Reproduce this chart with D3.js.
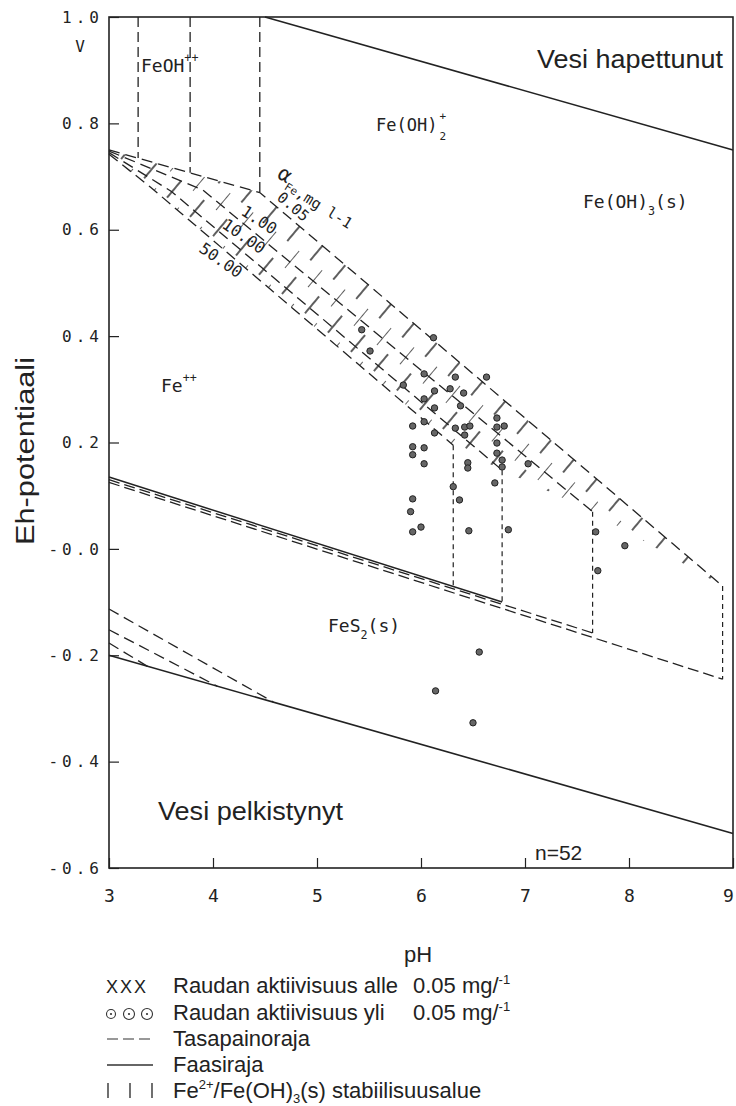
<!DOCTYPE html>
<html lang="fi">
<head>
<meta charset="UTF-8">
<title>Eh-pH diagrammi</title>
<script src="https://d3js.org/d3.v7.min.js"></script>
<style>
  body { margin: 0; background: #fff; }
  svg { display: block; }
  .mono { font-family: "DejaVu Sans Mono", monospace; fill: #222; }
  .sans { font-family: "Liberation Sans", Arial, sans-serif; fill: #222; }
</style>
</head>
<body>
<svg id="chart" width="736" height="1106"></svg>
<script>
// axis ticks
const phTicks = [3, 4, 5, 6, 7, 8, 9];
const ehTicks = [1.0, 0.8, 0.6, 0.4, 0.2, 0.0, -0.2, -0.4, -0.6];

// phase boundaries (pH, Eh)
const waterUpper = [[4.5, 1.0], [9, 0.75]];
const waterLower = [[3, -0.2], [9, -0.535]];
const feS2Solid = [[3, 0.135], [6.78, -0.1]];
const feS2DashA = [[3, 0.13], [7.65, -0.158]];
const feS2DashB = [[3, 0.125], [8.9, -0.245]];
const lowDash1 = [[3, -0.113], [4.58, -0.288]];
const lowDash2 = [[3, -0.152], [4.04, -0.258]];
const lowDash3 = [[3, -0.177], [3.38, -0.222]];

// Fe2+/Fe(OH)3 lines for activities 0.05, 1, 10, 50 mg/l
const band005 = [[3, 0.75], [4.45, 0.67], [8.9, -0.07]];
const band1 = [[3, 0.748], [3.9, 0.675], [7.65, 0.07]];
const band10 = [[3, 0.745], [3.6, 0.672], [6.78, 0.148]];
const band50 = [[3, 0.742], [3.4, 0.68], [6.31, 0.195]];
const hatchLower = [[3, 0.742], [3.4, 0.68], [6.31, 0.195], [6.78, 0.148], [7.65, 0.07], [8.9, -0.07]];

// vertical boundaries: pH, Eh top, Eh bottom
const topVerticals = [[3.28, 1.0, 0.735], [3.78, 1.0, 0.707], [4.45, 1.0, 0.67]];
const lowVerticals = [[6.31, 0.195, -0.071], [6.78, 0.148, -0.1], [7.65, 0.07, -0.158], [8.9, -0.07, -0.245]];

// samples (n=52)
const samplePH = [5.43, 5.51, 5.83, 6.12, 6.03, 6.33, 6.63, 6.13, 6.28, 6.41, 6.03, 6.13, 6.38, 5.92, 6.03, 6.13,
  6.33, 6.42, 6.47, 6.42, 6.73, 6.80, 6.73, 6.73, 6.73, 6.78, 6.78, 5.92, 5.92, 6.03, 6.03, 6.45, 6.45, 6.31,
  6.37, 6.71, 7.03, 5.92, 5.90, 5.92, 6.00, 6.46, 6.84, 7.68, 7.70, 7.96, 6.56, 6.14, 6.50];
const sampleEh = [0.412, 0.372, 0.308, 0.397, 0.329, 0.323, 0.323, 0.297, 0.301, 0.293, 0.282, 0.265, 0.269, 0.231, 0.239, 0.218,
  0.227, 0.229, 0.231, 0.214, 0.246, 0.231, 0.229, 0.199, 0.180, 0.167, 0.154, 0.192, 0.177, 0.190, 0.160, 0.162, 0.152, 0.117,
  0.092, 0.124, 0.160, 0.094, 0.070, 0.032, 0.041, 0.034, 0.036, 0.032, -0.041, 0.006, -0.194, -0.267, -0.327];

const svg = d3.select('#chart');
const plotLeft = 109, plotRight = 733, plotTop = 17, plotBottom = 868;

const x = d3.scaleLinear().domain([3, 9]).range([plotLeft, plotRight]);
const y = d3.scaleLinear().domain([-0.6, 1.0]).range([plotBottom, plotTop]);
const line = d3.line().x(d => x(d[0])).y(d => y(d[1]));

// hatch pattern for the stability band
const defs = svg.append('defs');
defs.append('pattern')
    .attr('id', 'hatch')
    .attr('patternUnits', 'userSpaceOnUse')
    .attr('width', 30).attr('height', 44)
    .attr('patternTransform', 'rotate(40)')
  .append('path')
    .attr('d', 'M0,0V22M15,22V44')
    .attr('stroke', '#1a1a1a').attr('stroke-width', 1.4);

svg.append('path')
    .attr('d', line(band005.concat(hatchLower.slice().reverse())) + 'Z')
    .attr('fill', 'url(#hatch)')
    .attr('stroke', 'none');

// axes
const yAxis = d3.axisLeft(y).tickValues(ehTicks).tickSize(-10).tickPadding(6)
    .tickFormat(d => d === 0 ? '-0.0' : d.toFixed(1));
svg.append('g').attr('transform', `translate(${plotLeft},0)`).call(yAxis)
    .call(g => g.select('.domain').remove())
    .call(g => g.selectAll('text').attr('class', 'mono').attr('font-size', 16).attr('letter-spacing', 4));

const xAxis = d3.axisBottom(x).tickValues(phTicks).tickSize(-10).tickPadding(21)
    .tickFormat(d3.format('d'));
svg.append('g').attr('transform', `translate(0,${plotBottom})`).call(xAxis)
    .call(g => g.select('.domain').remove())
    .call(g => g.selectAll('text').attr('class', 'mono').attr('font-size', 18)
        .attr('dx', d => d === 9 ? -5 : 0));

svg.selectAll('.tick line').attr('stroke', '#222').attr('stroke-width', 1.2);

svg.append('rect')
    .attr('x', plotLeft).attr('y', plotTop)
    .attr('width', plotRight - plotLeft).attr('height', plotBottom - plotTop)
    .attr('fill', 'none').attr('stroke', '#222').attr('stroke-width', 1.6);

// boundary lines
function draw(pts, dash, w) {
  svg.append('path')
      .attr('d', line(pts))
      .attr('fill', 'none')
      .attr('stroke', '#222')
      .attr('stroke-width', w || 1.3)
      .attr('stroke-dasharray', dash || null);
}

draw(waterUpper, null, 1.6);
draw(waterLower, null, 1.6);
draw(feS2Solid, null, 1.5);
draw(feS2DashA, '11,5');
draw(feS2DashB, '11,5');
draw(lowDash1, '11,6');
draw(lowDash2, '11,6');
draw(lowDash3, '11,6');
[band005, band1, band10, band50].forEach(b => draw(b, '11,6'));

topVerticals.forEach(v => draw([[v[0], v[1]], [v[0], v[2]]], '10,5'));
lowVerticals.forEach(v => draw([[v[0], v[1]], [v[0], v[2]]], '5,4', 1.2));

// samples
svg.append('g').selectAll('circle')
  .data(samplePH.map((p, i) => [p, sampleEh[i]]))
  .join('circle')
    .attr('cx', d => x(d[0]))
    .attr('cy', d => y(d[1]))
    .attr('r', 3.2)
    .attr('fill', '#666')
    .attr('stroke', '#222')
    .attr('stroke-width', 1);

// labels in the diagram
svg.append('text').attr('class', 'mono').attr('x', 80).attr('y', 52)
    .attr('font-size', 16).attr('text-anchor', 'middle').text('V');

function chem(xp, yp, parts, size) {
  const fs = size || 18;
  const t = svg.append('text').attr('class', 'mono').attr('x', xp).attr('y', yp).attr('font-size', fs);
  parts.forEach(p => {
    const s = t.append('tspan').text(p.t);
    if (p.dy) s.attr('dy', p.dy);
    if (p.small) s.attr('font-size', fs * 0.65);
  });
  return t;
}

chem(141, 72, [{t: 'FeOH'}, {t: '++', dy: -10, small: true}]);
chem(161, 392, [{t: 'Fe'}, {t: '++', dy: -10, small: true}]);
chem(328, 632, [{t: 'FeS'}, {t: '2', dy: 7, small: true}, {t: '(s)', dy: -7}]);
chem(583, 208, [{t: 'Fe(OH)'}, {t: '3', dy: 7, small: true}, {t: '(s)', dy: -7}]);
const feoh2 = chem(376, 131, [{t: 'Fe(OH)'}], 17);
const w2 = feoh2.node().getComputedTextLength();
chem(376 + w2 + 2, 120, [{t: '+'}], 11);
chem(376 + w2 + 2, 140, [{t: '2'}], 11);

svg.append('text').attr('class', 'sans').attr('x', 537).attr('y', 68).attr('font-size', 25)
    .attr('textLength', 186).attr('lengthAdjust', 'spacingAndGlyphs').text('Vesi hapettunut');
svg.append('text').attr('class', 'sans').attr('x', 158).attr('y', 820).attr('font-size', 25)
    .attr('textLength', 185).attr('lengthAdjust', 'spacingAndGlyphs').text('Vesi pelkistynyt');
svg.append('text').attr('class', 'sans').attr('x', 535).attr('y', 860).attr('font-size', 21).text('n=52');

// activity labels along the band
const alpha = svg.append('text').attr('class', 'mono')
    .attr('transform', 'translate(276,177) rotate(32)').attr('font-size', 21);
alpha.append('tspan').text('α');
alpha.append('tspan').attr('font-size', 11).attr('dy', 6).text('Fe');
alpha.append('tspan').attr('font-size', 15).attr('dy', 0).text(',mg l-1');

[['0.05', 276, 199, 40, 15], ['1.00', 240, 214, 33, 16], ['10.00', 221, 227, 35, 16], ['50.00', 198, 251, 35, 16]]
  .forEach(l => {
    svg.append('text').attr('class', 'mono').attr('font-size', l[4])
        .attr('transform', `translate(${l[1]},${l[2]}) rotate(${l[3]})`).text(l[0]);
  });

// axis titles
svg.append('text').attr('class', 'sans').attr('font-size', 26)
    .attr('transform', 'translate(34,451) rotate(-90)').attr('text-anchor', 'middle')
    .attr('textLength', 188).attr('lengthAdjust', 'spacingAndGlyphs').text('Eh-potentiaali');
svg.append('text').attr('class', 'sans').attr('font-size', 22).attr('fill', '#444')
    .attr('x', 418).attr('y', 962).attr('text-anchor', 'middle').text('pH');

// legend
const lg = svg.append('g').attr('class', 'legend');
const rowY = [993, 1020, 1046, 1072, 1098];
lg.append('text').attr('class', 'sans').attr('x', 106).attr('y', rowY[0]).attr('font-size', 18)
    .attr('letter-spacing', 2).attr('fill', '#333').text('XXX');
[111, 129, 147].forEach((cx, i) => {
  lg.append('circle').attr('cx', cx).attr('cy', rowY[1] - 6).attr('r', i === 0 ? 4.5 : 5.5)
      .attr('fill', 'none').attr('stroke', '#333').attr('stroke-width', 1.1);
  lg.append('circle').attr('cx', cx).attr('cy', rowY[1] - 6).attr('r', 1.1).attr('fill', '#333');
});
lg.append('line').attr('x1', 107).attr('x2', 153).attr('y1', rowY[2] - 7).attr('y2', rowY[2] - 7)
    .attr('stroke', '#333').attr('stroke-width', 1.2).attr('stroke-dasharray', '11,5');
lg.append('line').attr('x1', 107).attr('x2', 153).attr('y1', rowY[3] - 7).attr('y2', rowY[3] - 7)
    .attr('stroke', '#333').attr('stroke-width', 1.4);
[108, 130, 152].forEach(bx => {
  lg.append('line').attr('x1', bx).attr('x2', bx).attr('y1', rowY[4] - 15).attr('y2', rowY[4])
      .attr('stroke', '#333').attr('stroke-width', 1.4);
});

function legendText(xp, yp, parts) {
  const t = lg.append('text').attr('class', 'sans').attr('fill', '#333')
      .attr('x', xp).attr('y', yp).attr('font-size', 22);
  parts.forEach(p => {
    const s = t.append('tspan').text(p.t);
    if (p.dy) s.attr('dy', p.dy);
    if (p.small) s.attr('font-size', 13);
  });
}
legendText(173, rowY[0], [{t: 'Raudan aktiivisuus alle'}]);
legendText(173, rowY[1], [{t: 'Raudan aktiivisuus yli'}]);
legendText(413, rowY[0], [{t: '0.05 mg/'}, {t: '-1', dy: -9, small: true}]);
legendText(413, rowY[1], [{t: '0.05 mg/'}, {t: '-1', dy: -9, small: true}]);
legendText(173, rowY[2], [{t: 'Tasapainoraja'}]);
legendText(173, rowY[3], [{t: 'Faasiraja'}]);
legendText(173, rowY[4], [{t: 'Fe'}, {t: '2+', dy: -9, small: true}, {t: '/Fe(OH)', dy: 9},
  {t: '3', dy: 5, small: true}, {t: '(s) stabiilisuusalue', dy: -5}]);
</script>
</body>
</html>
